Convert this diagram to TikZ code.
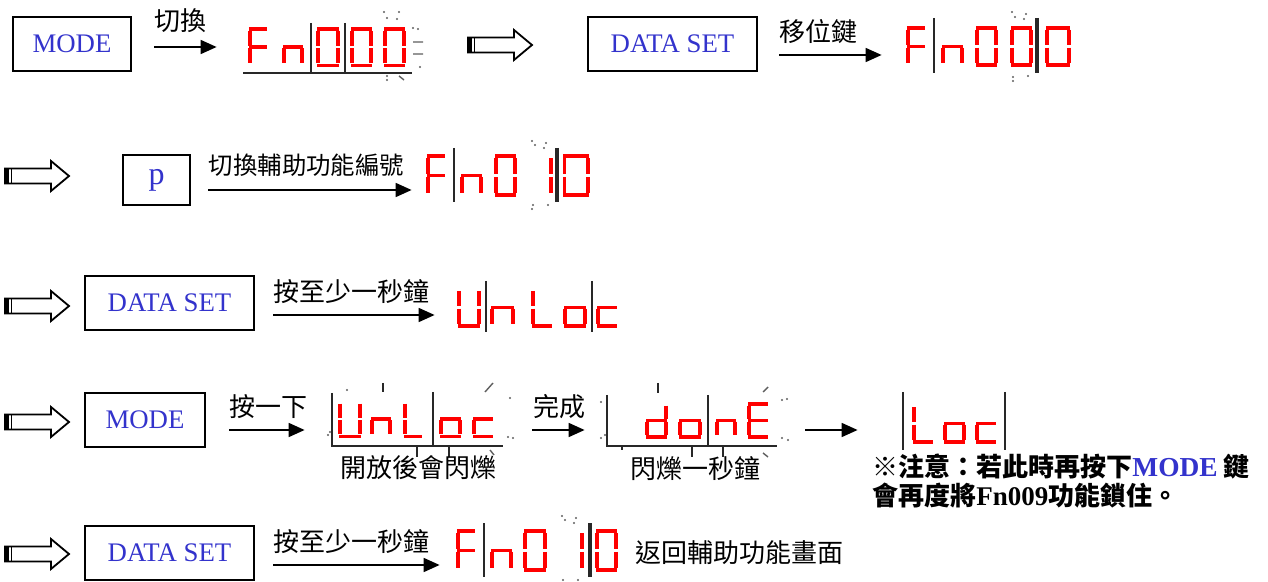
\documentclass[tikz,border=0pt]{standalone}
\usepackage{fontspec}
\setmainfont{Liberation Serif}
\newfontfamily\cjk{Noto Sans CJK TC}
\usetikzlibrary{arrows.meta}

\definecolor{keyblue}{RGB}{51,51,204}
\definecolor{segred}{RGB}{255,0,0}
\definecolor{sepgray}{RGB}{40,40,40}

% seven segment pieces (pixel units, digit 22 x 41)
\newcommand{\segpa}{(1,1.9) -- (21,1.9)}
\newcommand{\segpb}{(20.1,4) -- (20.1,19.3)}
\newcommand{\segpc}{(20.1,21.7) -- (20.1,37)}
\newcommand{\segpd}{(1,39.1) -- (21,39.1)}
\newcommand{\segpe}{(1.9,21.7) -- (1.9,37)}
\newcommand{\segpf}{(1.9,4) -- (1.9,19.3)}
\newcommand{\segpg}{(1,20.5) -- (21,20.5)}
% glyphs
\expandafter\def\csname glyph0\endcsname{a,b,c,d,e,f}
\expandafter\def\csname glyph1\endcsname{b,c}
\expandafter\def\csname glyphF\endcsname{a,e,f,g}
\expandafter\def\csname glyphn\endcsname{c,e,g}
\expandafter\def\csname glyphU\endcsname{b,c,d,e,f}
\expandafter\def\csname glyphL\endcsname{d,e,f}
\expandafter\def\csname glypho\endcsname{c,d,e,g}
\expandafter\def\csname glyphc\endcsname{d,e,g}
\expandafter\def\csname glyphd\endcsname{b,c,d,e,g}
\expandafter\def\csname glyphE\endcsname{a,d,e,f,g}
\newcommand{\segglyph}[4][]{%
  \edef\seglist{\csname glyph#4\endcsname}%
  \foreach \s in \seglist {\edef\segcur{\csname segp\s\endcsname}%
    \draw[segline,shift={(#2,#3)},#1] \segcur;}}

\begin{document}
\begin{tikzpicture}[x=0.5pt, y=-0.5pt,
    keybox/.style={draw, line width=1pt, minimum height=27pt, inner sep=0pt,
      text=keyblue, font=\fontsize{13.4}{16}\selectfont},
    display/.style={inner sep=0pt, minimum height=20pt},
    steparrow/.style={-{Triangle[length=8pt,width=7pt]}, line width=0.85pt},
    steplabel/.style={font=\cjk\fontsize{13}{15}\selectfont, inner sep=0pt,
      anchor=west, pos=0, yshift=11.5pt},
    caption/.style={font=\cjk\fontsize{13}{15}\selectfont, inner sep=0pt, anchor=west},
    segline/.style={draw=segred, line width=1.8pt},
    sepline/.style={draw=sepgray, line width=1pt},
    blinkdot/.style={fill=sepgray!75},
    blinkdash/.style={draw=sepgray!75, line width=0.7pt},
    pics/hollowarrow/.style={code={
      \draw[line width=0.9pt, line join=miter] (0,-7.5) -- (46,-7.5) -- (46,-15) -- (64,0)
        -- (46,15) -- (46,7.5) -- (0,7.5) -- cycle;
      \fill (0,-7.5) rectangle (3.5,7.5);
      \draw[line width=0.6pt] (6.5,-7.5) -- (6.5,7.5);
    }}
  ]
  \useasboundingbox (0,0) rectangle (1268,582);

  % keys
  \node[keybox, minimum width=59pt] (modeA) at (72,44) {MODE};
  \node[keybox, minimum width=84.5pt] (dataA) at (672.5,44) {DATA SET};
  \node[keybox, minimum width=33.5pt, minimum height=25pt, font=\fontsize{16}{18}\selectfont] (pkey) at (156.5,180) {p};
  \node[keybox, minimum width=84.5pt] (dataB) at (169.5,303) {DATA SET};
  \node[keybox, minimum width=60pt] (modeB) at (145,420) {MODE};
  \node[keybox, minimum width=84.5pt] (dataC) at (169.5,552.5) {DATA SET};

  % displays (anchors for the arrows)
  \node[display, minimum width=86pt] (fnA) at (329,47) {};
  \node[display, minimum width=86pt] (fnB) at (989,55) {};
  \node[display, minimum width=85pt] (fnC) at (509,190) {};
  \node[display, minimum width=83.5pt] (unlockA) at (538.5,315) {};
  \node[display, minimum width=95pt] (unlockB) at (420,430) {};
  \node[display, minimum width=97pt] (doneA) at (695,430) {};
  \node[display, minimum width=56pt] (lockA) at (954,430) {};
  \node[display, minimum width=85pt] (fnD) at (537,565) {};

  % hollow arrows
  \pic (hA) at (468,45) {hollowarrow};
  \pic (hB) at (5,176) {hollowarrow};
  \pic (hC) at (5,306) {hollowarrow};
  \pic (hD) at (5,422) {hollowarrow};
  \pic (hE) at (5,554) {hollowarrow};

  % step arrows
  \draw[steparrow] ([shift={(22,3)}]modeA.east) -- node[steplabel, yshift=1.5pt] (lblA) {切換} ([shift={(-26,0)}]fnA.west);
  \draw[steparrow] ([shift={(21,11)}]dataA.east) -- node[steplabel] (lblB) {移位鍵} ([shift={(-21,0)}]fnB.west);
  \draw[steparrow] ([shift={(17,10)}]pkey.east) -- node[steplabel, yshift=1pt, font=\cjk\fontsize{12.2}{15}\selectfont] (lblC) {切換輔助功能編號} ([shift={(-12,0)}]fnC.west);
  \draw[steparrow] ([shift={(18,12)}]dataB.east) -- node[steplabel] (lblD) {按至少一秒鐘} ([shift={(-20,0)}]unlockA.west);
  \draw[steparrow] ([shift={(23,10)}]modeB.east) -- node[steplabel] (lblE) {按一下} ([shift={(-20,0)}]unlockB.west);
  \draw[steparrow] ([shift={(17,0)}]unlockB.east) -- node[steplabel] (lblF) {完成} ([shift={(-13,0)}]doneA.west);
  \draw[steparrow] ([shift={(13,0)}]doneA.east) -- ([shift={(-40,0)}]lockA.west);
  \draw[steparrow] ([shift={(18,12.5)}]dataC.east) -- node[steplabel] (lblG) {按至少一秒鐘} ([shift={(-12,0)}]fnD.west);

  % Fn000 (blinking last digit)
  \foreach \gx/\gs/\gc in {248/0.9/F, 282/1/n, 316/1.1/0, 350/1.05/0, 383/1.05/0}
    {\segglyph[xscale=\gs, yscale=0.98]{\gx}{27}{\gc}}
  \draw[sepline] (311,23) -- (311,73) (345,23) -- (345,73);
  \draw[sepline, line width=0.8pt] (243,73) -- (412,73);
  \foreach \p in {(384,12),(387,18),(399,12),(397,19),(413,28),(418,29),(420,67),(387,76),(387,80)}
    \fill[blinkdot] \p circle (1.2);
  \draw[blinkdash] (413,42) -- (423,42) (413,54) -- (423,54) (399,76) -- (404,80);

  % Fn000 after shift key
  \foreach \gx/\gs/\gc in {906/0.9/F, 941/1.05/n, 975/1.05/0, 1010/1.05/0, 1045/1.2/0}
    {\segglyph[xscale=\gs]{\gx}{26}{\gc}}
  \draw[sepline] (934,18) -- (934,73);
  \draw[sepline, line width=1.6pt] (1037,18) -- (1037,73);
  \foreach \p in {(1012,12),(1015,17),(1026,14),(1024,19),(1013,77),(1013,81),(1028,76)}
    \fill[blinkdot] \p circle (1.2);

  % Fn010
  \foreach \gx/\gs/\gc in {426/0.9/F, 460/1.05/n, 494/1.05/0, 531/1/1, 562/1.3/0}
    {\segglyph[xscale=\gs, yscale=1.05]{\gx}{154}{\gc}}
  \draw[sepline] (454,148) -- (454,202);
  \draw[sepline, line width=1.6pt] (557,148) -- (557,202);
  \foreach \p in {(532,141),(535,145),(546,143),(544,148),(533,205),(532,209),(548,205)}
    \fill[blinkdot] \p circle (1.2);

  % UnLoc
  \foreach \gx/\gs/\gc in {457/1.1/U, 490/1.15/n, 531/1/L, 563/1.1/o, 596/1/c}
    {\segglyph[xscale=\gs]{\gx}{287}{\gc}}
  \draw[sepline] (486,281) -- (486,332) (592,281) -- (592,332);

  % UnLoc blinking
  \foreach \gx/\gs/\gc in {338/1.1/U, 370/1/n, 403/0.9/L, 439/1.05/o, 472/1/c}
    {\segglyph[xscale=\gs, yscale=0.93]{\gx}{400}{\gc}}
  \draw[sepline] (332,393) -- (332,446) -- (503,446) (433,392) -- (433,446)
    (383,383) -- (383,392) (417,446) -- (417,457) (449,446) -- (449,457);
  \foreach \p in {(510,398),(508,437),(513,438),(347,390),(328,435),(330,432)}
    \fill[blinkdot] \p circle (1.2);
  \draw[blinkdash] (485,392) -- (493,383) (490,450) -- (494,455);
  \node[caption] (capA) at (340,468) {開放後會閃爍};

  % donE
  \foreach \gx/\gs/\gc in {645/1.05/d, 678/1.1/o, 715/1/n, 747/1/E}
    {\segglyph[xscale=\gs, yscale=0.9]{\gx}{402}{\gc}}
  \draw[sepline] (607,395) -- (607,446) -- (777,446) (708,395) -- (708,446)
    (658,383) -- (658,393) (622,446) -- (622,450) (692,446) -- (692,457) (723,446) -- (723,457);
  \foreach \p in {(601,402),(601,438),(605,435),(782,400),(787,399),(782,438),(788,440)}
    \fill[blinkdot] \p circle (1.2);
  \draw[blinkdash] (763,392) -- (768,387) (763,453) -- (768,457);
  \node[caption] (capB) at (630,469) {閃爍一秒鐘};

  % Loc
  \foreach \gx/\gs/\gc in {912/1/L, 943/1.05/o, 975/1/c}
    {\segglyph[xscale=\gs]{\gx}{403}{\gc}}
  \draw[sepline] (903,392) -- (903,450) (1005,392) -- (1005,450);
  \node[font=\cjk\bfseries\fontsize{13}{14.5}\selectfont, inner sep=0pt, anchor=west, align=left] (note) at (872,481.5)
    {※注意：若此時再按下{\rmfamily\fontsize{13.7}{14.5}\selectfont\color{keyblue}MODE} 鍵\\
     會再度將{\rmfamily\fontsize{13.5}{14.5}\selectfont Fn009}功能鎖住。};

  % Fn010 again
  \foreach \gx/\gs/\gc in {456/0.9/F, 490/1.05/n, 523/1.1/0, 562/1/1, 595/1.05/0}
    {\segglyph[xscale=\gs, yscale=1.05]{\gx}{529}{\gc}}
  \draw[sepline] (484,523) -- (484,577);
  \draw[sepline, line width=1.6pt] (590,523) -- (590,577);
  \foreach \p in {(562,516),(565,520),(576,518),(574,523),(563,580),(562,584),(578,580)}
    \fill[blinkdot] \p circle (1.2);
  \node[caption] (capC) at (635,553) {返回輔助功能畫面};
\end{tikzpicture}
\end{document}
